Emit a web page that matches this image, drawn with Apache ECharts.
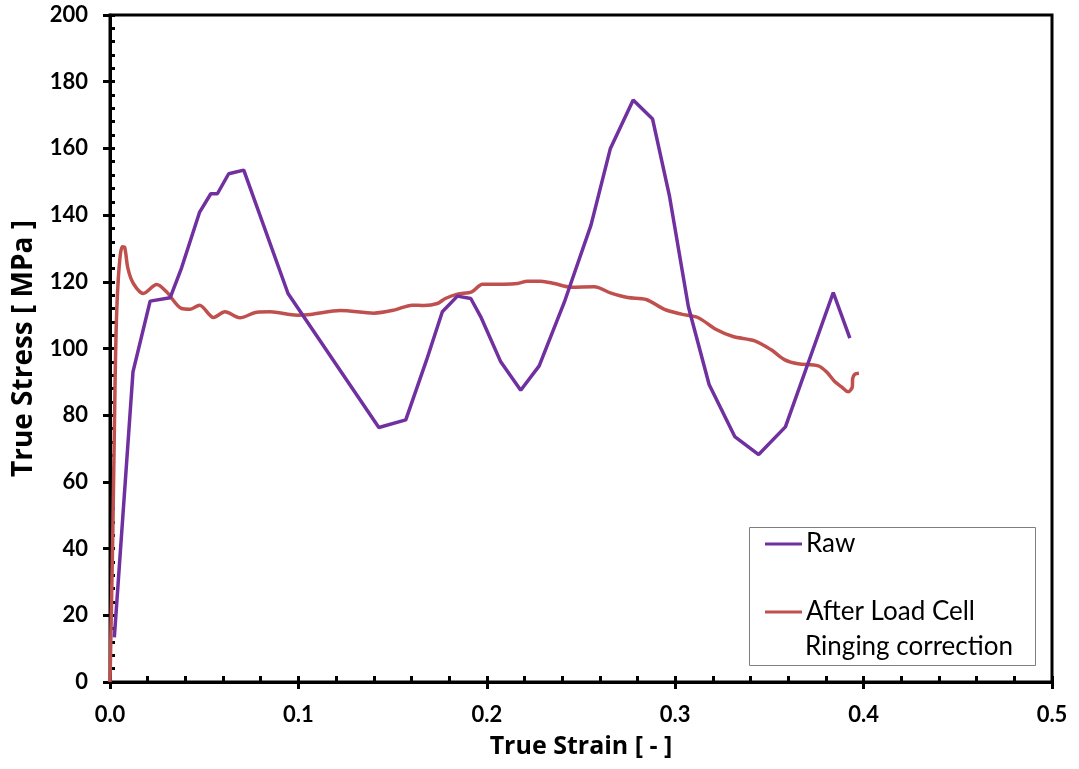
<!DOCTYPE html>
<html>
<head>
<meta charset="utf-8">
<script src="https://cdn.jsdelivr.net/npm/echarts@6/dist/echarts.min.js"></script>
<style>
html,body{margin:0;padding:0;background:#fff;}
#chart{width:1079px;height:769px;}
</style>
</head>
<body>
<div id="chart"></div>
<script>
// ---- data ----
var rawStrain = [0.0023, 0.0122, 0.0213, 0.0319, 0.0380, 0.0475, 0.0535, 0.0570, 0.0630, 0.0710, 0.0945, 0.1427, 0.1570, 0.1680, 0.1764, 0.1844, 0.1915, 0.1968, 0.2074, 0.2180, 0.2278, 0.2411, 0.2553, 0.2656, 0.2777, 0.2880, 0.2970, 0.3070, 0.3180, 0.3316, 0.3443, 0.3585, 0.3839, 0.3927];
var rawStress = [13.4, 93.0, 114.2, 115.2, 124.2, 140.8, 146.4, 146.4, 152.4, 153.5, 116.5, 76.3, 78.6, 96.5, 111.0, 115.7, 115.0, 109.5, 96.0, 87.5, 94.8, 113.8, 137.0, 160.0, 174.5, 168.8, 145.6, 112.5, 89.2, 73.6, 68.2, 76.5, 116.8, 103.1];

var corrStrain = [0.0000, 0.0015, 0.0027, 0.0035, 0.0048, 0.0065, 0.0078, 0.0095, 0.0124, 0.0177, 0.0248, 0.0300, 0.0380, 0.0426, 0.0475, 0.0550, 0.0610, 0.0690, 0.0780, 0.0850, 0.0993, 0.1064, 0.1223, 0.1400, 0.1507, 0.1604, 0.1667, 0.1738, 0.1780, 0.1844, 0.1920, 0.1977, 0.2090, 0.2163, 0.2216, 0.2287, 0.2358, 0.2447, 0.2570, 0.2660, 0.2748, 0.2846, 0.2943, 0.3032, 0.3120, 0.3218, 0.3307, 0.3422, 0.3510, 0.3582, 0.3652, 0.3759, 0.3803, 0.3848, 0.3883, 0.3918, 0.3940, 0.3942, 0.3954, 0.3975];
var corrStress = [0.0, 45.0, 90.0, 110.0, 124.0, 130.5, 130.3, 124.0, 119.5, 116.5, 119.2, 117.0, 112.0, 111.8, 113.0, 109.3, 111.0, 109.2, 110.9, 111.0, 110.0, 110.2, 111.4, 110.6, 111.5, 113.0, 112.9, 113.5, 115.0, 116.3, 117.0, 119.3, 119.3, 119.5, 120.2, 120.2, 119.5, 118.4, 118.5, 116.6, 115.3, 114.7, 111.7, 110.3, 109.3, 105.7, 103.6, 102.3, 99.6, 96.6, 95.4, 94.8, 93.0, 90.0, 88.5, 87.0, 88.5, 91.0, 92.3, 92.6];

var xTicks = [0, 0.5, 0.1];   // min, max, interval
var yTicks = [0, 200, 20];

var seriesNames = ['Raw', 'After Load Cell Ringing correction'];

function zip(a, b){ var o=[]; for(var i=0;i<a.length;i++) o.push([a[i], b[i]]); return o; }

var chart = echarts.init(document.getElementById('chart'), null, {renderer:'canvas'});
var FONT = 'Lato';
var TFONT = 'Open Sans';
var option = {
  animation: false,
  backgroundColor: '#ffffff',
  grid: {left:110, right:27, top:15, bottom:87, show:true, borderColor:'#000', borderWidth:3, backgroundColor:'transparent'},
  xAxis: [{
    type:'value', min:xTicks[0], max:xTicks[1], interval:xTicks[2],
    position:'bottom',
    axisLine:{show:true, lineStyle:{color:'#000', width:3}},
    axisTick:{show:true, inside:false, length:7, lineStyle:{color:'#000', width:3}},
    axisLabel:{margin:22, color:'#000', fontFamily:FONT, fontWeight:'bold', fontSize:22, formatter:function(v){return v.toFixed(1);}},
    splitLine:{show:false},
    name:'True Strain [ - ]', nameLocation:'middle', nameGap:52,
    nameTextStyle:{color:'#000', fontFamily:TFONT, fontWeight:'bold', fontSize:25}
  },{
    type:'value', min:xTicks[0], max:xTicks[1], interval:0.02,
    position:'bottom',
    axisLine:{show:false},
    axisTick:{show:true, inside:true, length:6, lineStyle:{color:'#000', width:3}},
    axisLabel:{show:false}, splitLine:{show:false}
  }],
  yAxis: [{
    type:'value', min:yTicks[0], max:yTicks[1], interval:yTicks[2],
    position:'left',
    axisLine:{show:true, lineStyle:{color:'#000', width:3}},
    axisTick:{show:true, inside:false, length:7, lineStyle:{color:'#000', width:3}},
    axisLabel:{margin:22, color:'#000', fontFamily:FONT, fontWeight:'bold', fontSize:22},
    splitLine:{show:false},
    name:'True Stress [ MPa ]', nameLocation:'middle', nameGap:72, nameRotate:90,
    nameTextStyle:{color:'#000', fontFamily:TFONT, fontWeight:'bold', fontSize:28}
  },{
    type:'value', min:yTicks[0], max:yTicks[1], interval:4,
    position:'left',
    axisLine:{show:false},
    axisTick:{show:true, inside:true, length:5, lineStyle:{color:'#000', width:3}},
    axisLabel:{show:false}, splitLine:{show:false}
  }],
  legend: {
    show:true, orient:'vertical', left:765, top:531, itemGap:42, padding:0,
    itemWidth:37, itemHeight:3, icon:'rect',
    data: seriesNames,
    formatter:function(n){ return n === seriesNames[1] ? 'After Load Cell' : n; },
    textStyle:{color:'#000', fontFamily:FONT, fontSize:26, padding:[0,0,0,-1]}
  },
  graphic: [
    {type:'rect', left:749, top:527, shape:{width:286, height:138}, style:{fill:'transparent', stroke:'#7f7f7f', lineWidth:1}, z:0},
    {type:'text', left:805, top:634, style:{text:'Ringing correction', fill:'#000', font:'26px Lato'}}
  ],
  series: [
    {name:seriesNames[0], type:'line', xAxisIndex:0, yAxisIndex:0, data:zip(rawStrain, rawStress),
     showSymbol:false, symbol:'none', lineStyle:{color:'#7030A0', width:3.5}, itemStyle:{color:'#7030A0'}, z:3},
    {name:seriesNames[1], type:'line', xAxisIndex:0, yAxisIndex:0, data:zip(corrStrain, corrStress),
     showSymbol:false, symbol:'none', smooth:0.3, lineStyle:{color:'#C0504D', width:3.5}, itemStyle:{color:'#C0504D'}, z:2}
  ]
};
chart.setOption(option);
</script>
</body>
</html>
